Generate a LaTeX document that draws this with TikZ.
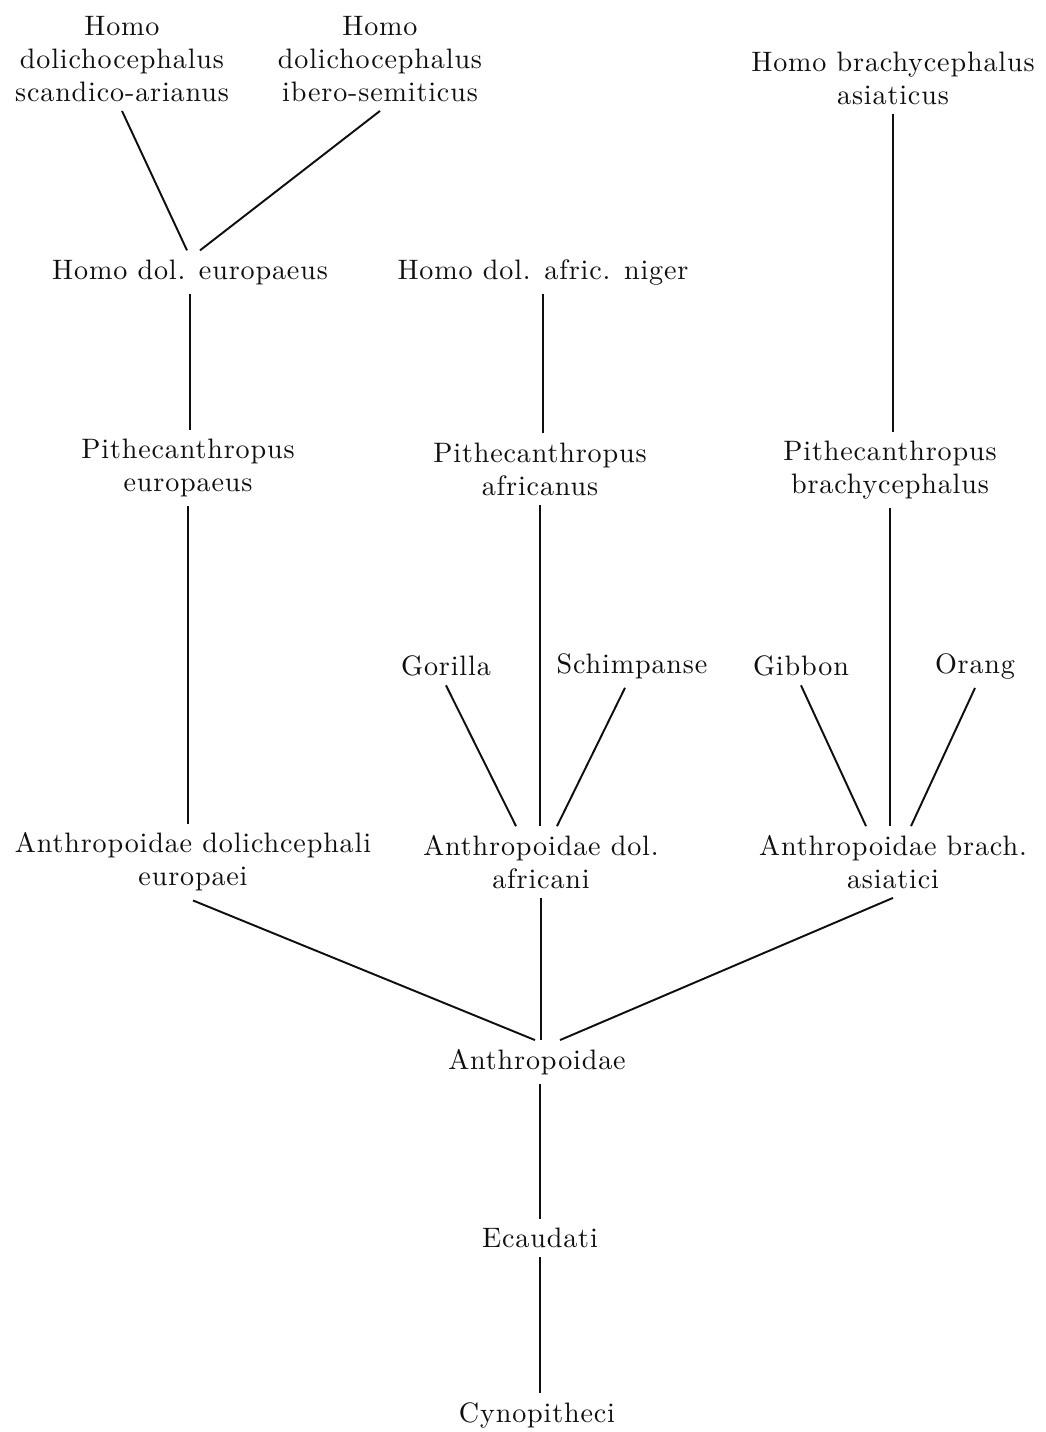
\documentclass[tikz,border=0pt]{standalone}
\usepackage{fontspec}
\setmainfont{lmroman10-regular.otf}[LetterSpace=3]
\usepackage{tikz}
\definecolor{ink}{RGB}{15, 15, 15}
\tikzset{
  taxon/.style={align=center, inner sep=5pt, text=ink,
                font=\fontsize{16}{18.8}\selectfont},
  stem/.style={draw=ink, line width=1.1pt}
}
\begin{document}
\begin{tikzpicture}
            \useasboundingbox (0.00, 0.00) rectangle (20.90,-28.64);
            % top row
            \node[taxon] (hsa) at ( 2.44, -1.18) {Homo\\dolichocephalus\\scandico-arianus};
            \node[taxon] (hsi) at ( 7.60, -1.18) {Homo\\dolichocephalus\\ibero-semiticus};
            \node[taxon] (hba) at (17.86, -1.56) {Homo brachycephalus\\asiaticus};
            \node[taxon] (hde) at ( 3.80, -5.44) {Homo dol. europaeus};
            \node[taxon] (hdn) at (10.86, -5.44) {Homo dol. afric. niger};
            % pithecanthropi
            \node[taxon] (pe)  at ( 3.76, -9.36) {Pithecanthropus\\europaeus};
            \node[taxon] (pa)  at (10.80, -9.38) {Pithecanthropus\\africanus};
            \node[taxon] (pb)  at (17.80, -9.40) {Pithecanthropus\\brachycephalus};
            % apes
            \node[taxon] (gor) at ( 8.92,-13.32) {Gorilla};
            \node[taxon] (sch) at (12.64,-13.32) {Schimpanse};
            \node[taxon] (gib) at (16.02,-13.32) {Gibbon};
            \node[taxon] (ora) at (19.50,-13.32) {Orang};
            % anthropoidae
            \node[taxon] (ade) at ( 3.86,-17.24) {Anthropoidae dolichcephali\\europaei};
            \node[taxon] (ada) at (10.82,-17.24) {Anthropoidae dol.\\africani};
            \node[taxon] (aba) at (17.86,-17.24) {Anthropoidae brach.\\asiatici};
            \node[taxon] (ant) at (10.74,-21.24) {Anthropoidae};
            \node[taxon] (eca) at (10.80,-24.76) {Ecaudati};
            \node[taxon] (cyn) at (10.74,-28.30) {Cynopitheci};
            % connectors
            \draw[stem] (hsa.south) -- ([xshift=-0.06cm]hde.north);
            \draw[stem] (hsi.south) -- ([xshift= 0.20cm]hde.north);
            \draw[stem] (hba.south) -- (hba.south |- pb.north);
            \draw[stem] (hde.south) -- (hde.south |- pe.north);
            \draw[stem] (hdn.south) -- (hdn.south |- pa.north);
            \draw[stem] (pe.south)  -- (pe.south |- ade.north);
            \draw[stem] (pa.south)  -- (pa.south |- ada.north);
            \draw[stem] (pb.south)  -- (pb.south |- aba.north);
            \draw[stem] (gor.south) -- ([xshift=-0.50cm]ada.north);
            \draw[stem] ([xshift=-0.14cm]sch.south) -- ([xshift= 0.32cm]ada.north);
            \draw[stem] (gib.south) -- ([xshift=-0.54cm]aba.north);
            \draw[stem] (ora.south) -- ([xshift= 0.36cm]aba.north);
            \draw[stem] (ade.south) -- ([xshift=-0.04cm]ant.north);
            \draw[stem] (ada.south) -- (ada.south |- ant.north);
            \draw[stem] (aba.south) -- ([xshift= 0.46cm]ant.north);
            \draw[stem] ([xshift=0.06cm]ant.south) -- ([xshift=0.06cm]ant.south |- eca.north);
            \draw[stem] (eca.south) -- (eca.south |- cyn.north);
\end{tikzpicture}
\end{document}
